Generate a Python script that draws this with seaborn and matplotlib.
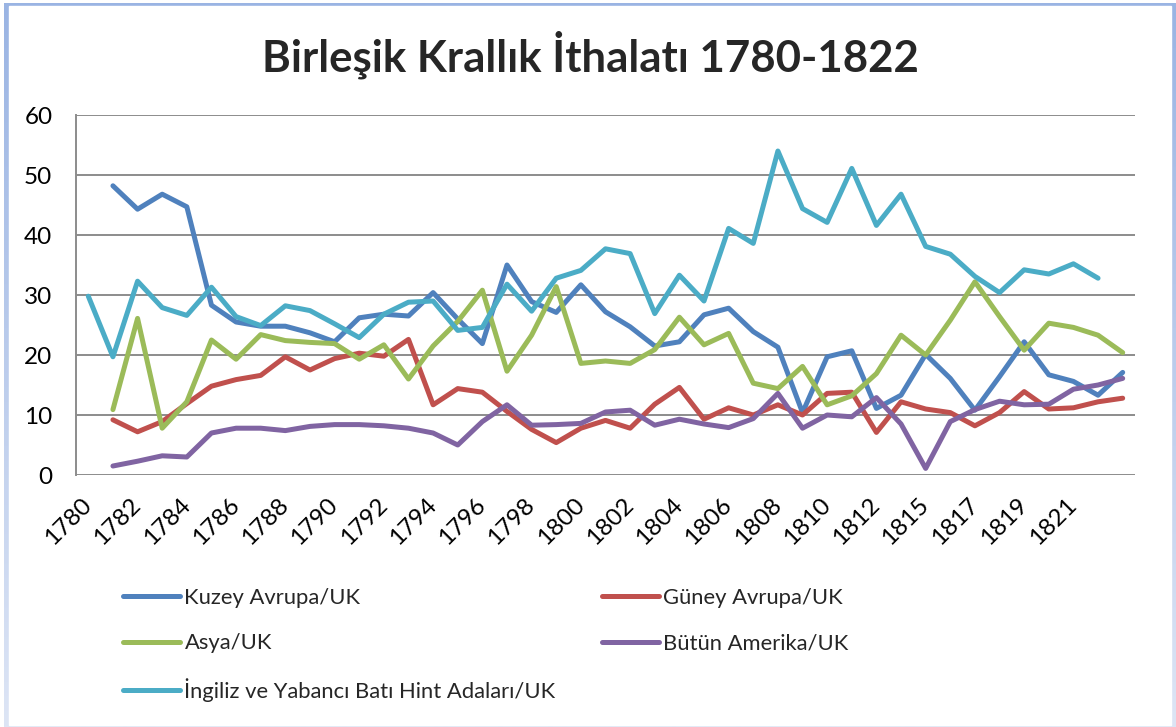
import numpy as np
import pandas as pd
import matplotlib
matplotlib.use("Agg")
import matplotlib.pyplot as plt
from matplotlib.colors import LinearSegmentedColormap
from matplotlib.patches import Rectangle
import seaborn as sns

# categories (1813 has no column in the source sheet)
years = [str(y) for y in range(1780, 1813)] + [str(y) for y in range(1814, 1824)]
tick_labels = years[0:41:2]

kuzey = [np.nan, 48.2, 44.3, 46.8, 44.7, 28.3, 25.5, 24.8, 24.8, 23.7, 22.2, 26.2, 26.8,
         26.5, 30.4, 26.0, 21.9, 35.0, 28.9, 27.1, 31.7, 27.2, 24.7, 21.5, 22.2, 26.7,
         27.8, 23.9, 21.3, 10.4, 19.7, 20.7, 11.1, 13.3, 20.1, 16.1, 10.8, 16.4, 22.2,
         16.7, 15.6, 13.3, 17.1]
guney = [np.nan, 9.2, 7.2, 8.9, 11.9, 14.8, 15.9, 16.6, 19.7, 17.5, 19.4, 20.3, 19.8,
         22.6, 11.7, 14.4, 13.8, 10.6, 7.6, 5.4, 7.8, 9.1, 7.8, 11.8, 14.6, 9.3,
         11.2, 10.0, 11.7, 10.0, 13.6, 13.8, 7.1, 12.2, 11.0, 10.4, 8.2, 10.4, 13.9,
         11.0, 11.2, 12.2, 12.8]
asya = [np.nan, 10.9, 26.1, 7.8, 12.2, 22.5, 19.3, 23.4, 22.4, 22.1, 21.9, 19.3, 21.7,
        16.0, 21.5, 25.6, 30.8, 17.3, 23.3, 31.4, 18.6, 19.0, 18.6, 20.9, 26.3, 21.7,
        23.6, 15.3, 14.4, 18.1, 11.7, 13.2, 16.9, 23.3, 20.0, 25.8, 32.2, 26.4, 20.8,
        25.3, 24.6, 23.3, 20.4]
amerika = [np.nan, 1.5, 2.3, 3.2, 3.0, 7.0, 7.8, 7.8, 7.4, 8.1, 8.4, 8.4, 8.2,
           7.8, 7.0, 5.0, 8.9, 11.7, 8.3, 8.4, 8.6, 10.5, 10.8, 8.3, 9.3, 8.5,
           7.9, 9.4, 13.6, 7.8, 10.0, 9.7, 12.9, 8.5, 1.1, 8.9, 10.9, 12.3, 11.7,
           11.8, 14.3, 15.0, 16.1]
bati_hint = [29.8, 19.7, 32.3, 27.9, 26.6, 31.3, 26.4, 24.9, 28.2, 27.4, 25.2, 22.9, 26.8,
             28.8, 29.0, 24.1, 24.6, 31.8, 27.3, 32.8, 34.1, 37.7, 36.9, 26.9, 33.3, 29.0,
             41.1, 38.6, 54.0, 44.4, 42.1, 51.1, 41.6, 46.8, 38.1, 36.8, 33.1, 30.4, 34.2,
             33.5, 35.2, 32.8, np.nan]

series_names = ["Kuzey Avrupa/UK", "Güney Avrupa/UK", "Asya/UK", "Bütün Amerika/UK",
                "İngiliz ve Yabancı Batı Hint Adaları/UK"]
series_values = [kuzey, guney, asya, amerika, bati_hint]
colors = ["#4F81BD", "#C0504D", "#9BBB59", "#8064A2", "#4BACC6"]

frames = []
for name, vals in zip(series_names, series_values):
    frames.append(pd.DataFrame({"idx": np.arange(len(years)), "Yil": years,
                                "Deger": vals, "Seri": name}))
df = pd.concat(frames).dropna()

sns.set_style("white")
plt.rcParams["font.family"] = ["Lato", "DejaVu Sans"]

W, H = 1176, 727
fig = plt.figure(figsize=(W / 100, H / 100), dpi=100)

# chart frame with the light blue gradient border
bg = fig.add_axes([0, 0, 1, 1])
bg.set_zorder(-10)
grad = np.linspace(0, 1, 256).reshape(-1, 1)
cmap = LinearSegmentedColormap.from_list("frame", ["#9AB4E3", "#DDE5F5"])
bg.imshow(grad, extent=[4, 1176, 0, 724], aspect="auto", cmap=cmap, origin="upper")
bg.add_patch(Rectangle((9, 2), 1162, 719, color="white"))
bg.set_xlim(0, W)
bg.set_ylim(0, H)
bg.axis("off")

ax = fig.add_axes([76 / W, (H - 475) / H, 1059 / W, 360 / H])
ax.set_facecolor("white")
sns.lineplot(data=df, x="idx", y="Deger", hue="Seri", hue_order=series_names,
             palette=dict(zip(series_names, colors)), linewidth=3.6,
             errorbar=None, ax=ax, legend=False)
for ln in ax.lines:
    ln.set_solid_joinstyle("round")
    ln.set_solid_capstyle("round")

ax.set_xlim(-0.5, len(years) - 0.5)
ax.set_ylim(0, 60)
ax.set_yticks(range(0, 61, 10))
ax.set_xticks(range(0, 41, 2))
ax.set_xticklabels(tick_labels, rotation=45, ha="right", va="center",
                   rotation_mode="anchor")
ax.tick_params(axis="y", length=0, pad=17, labelsize=17.5, colors="#000000")
ax.tick_params(axis="x", length=0, pad=19, labelsize=17.5, colors="#000000")
ax.yaxis.grid(True, color="#8C8C8C", linewidth=1.4)
ax.set_axisbelow(True)
for s in ["top", "right", "bottom"]:
    ax.spines[s].set_visible(False)
ax.spines["left"].set_color("#8C8C8C")
ax.spines["left"].set_linewidth(1.4)
ax.set_xlabel("")
ax.set_ylabel("")

fig.text(590 / W, 1 - 55 / H, "Birleşik Krallık İthalatı 1780-1822",
         ha="center", va="center", fontsize=31.5, fontweight="bold")

h = ax.lines
leg1 = fig.legend([h[0], h[2], h[1], h[3]],
                  [series_names[0], series_names[2], series_names[1], series_names[3]],
                  ncol=2, loc="upper left", bbox_to_anchor=(123 / W, 1 - 588 / H),
                  frameon=False, fontsize=15.8, handlelength=2.6, handletextpad=0.2,
                  columnspacing=11.0, labelspacing=1.15, borderpad=0, borderaxespad=0)
leg2 = fig.legend([h[4]], [series_names[4]], loc="upper left",
                  bbox_to_anchor=(123 / W, 1 - 678 / H), frameon=False, fontsize=15.8,
                  handlelength=2.6, handletextpad=0.2, borderpad=0, borderaxespad=0)
for leg in (leg1, leg2):
    for lh in leg.legend_handles:
        lh.set_linewidth(3.6)
        lh.set_solid_capstyle("round")

fig.savefig("out.png", dpi=100)
